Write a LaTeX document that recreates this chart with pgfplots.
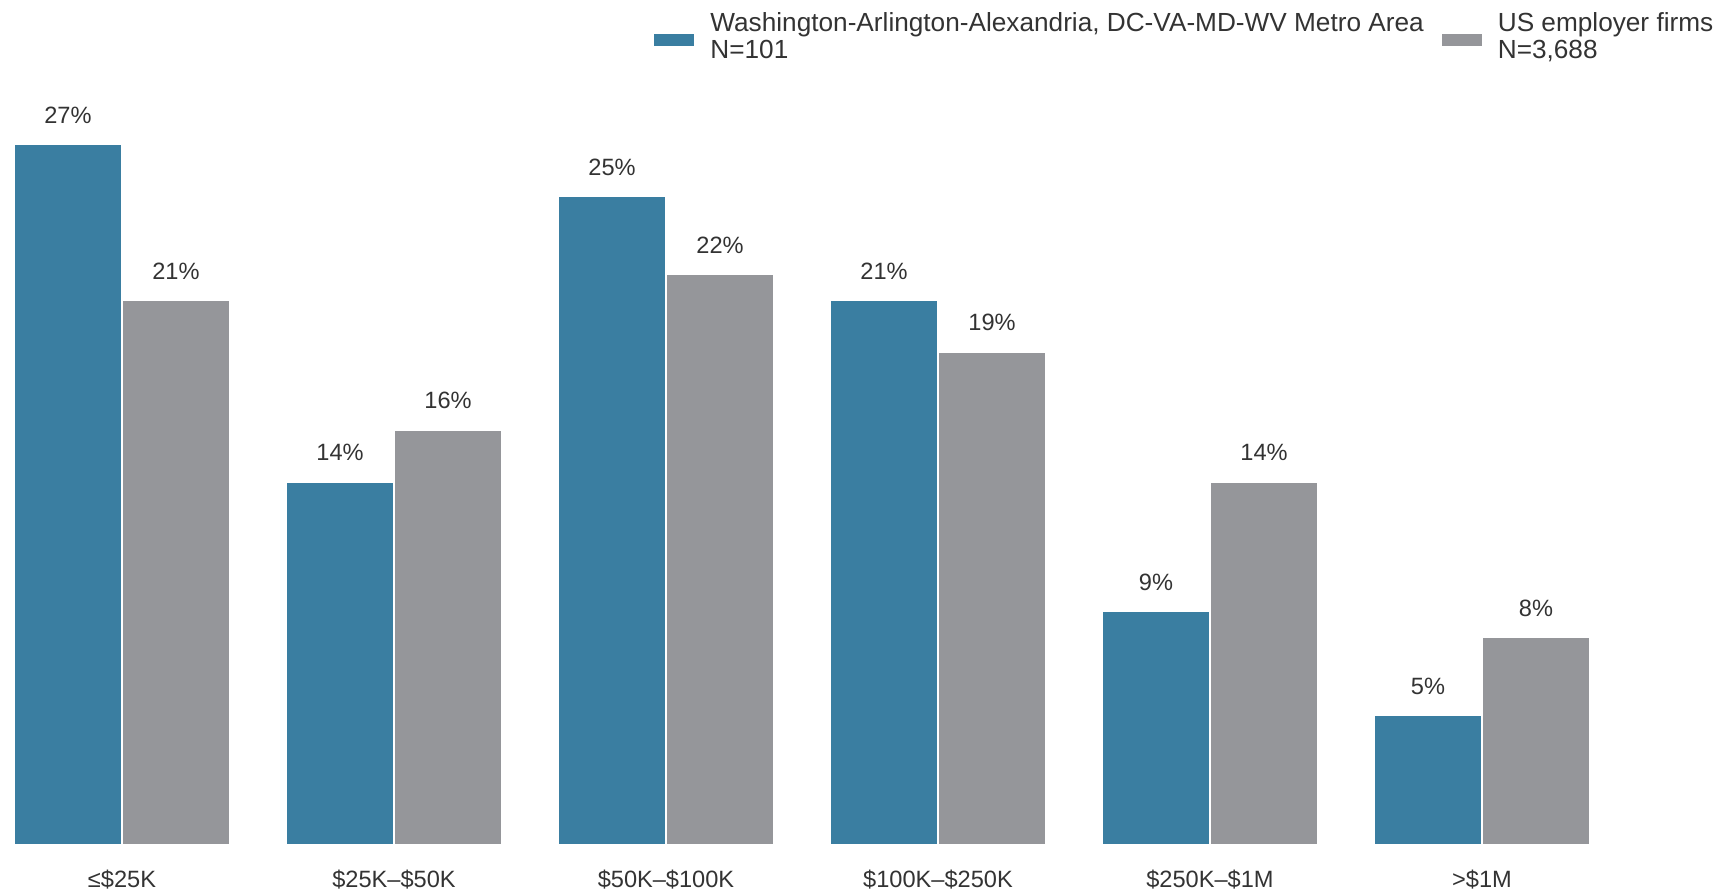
\documentclass[border=0pt]{standalone}
\usepackage{fontspec}
\setmainfont{Liberation Sans}
\usepackage{pgfplots}
\pgfplotsset{compat=1.18}
\definecolor{barblue}{HTML}{3A7EA1}
\definecolor{bargray}{HTML}{95969A}
\definecolor{txt}{HTML}{333333}

\newcommand{\chartfont}{\fontsize{11.8pt}{13.3pt}\selectfont}
\newcommand{\legfont}{\fontsize{13.1pt}{13.3pt}\selectfont}

\begin{document}
\begin{tikzpicture}
\begin{axis}[
  scale only axis, width=863.5pt, height=422.5pt,
  xmin=-0.4485, xmax=5.9007, ymin=0, ymax=32.55,
  axis line style={draw=none}, tick style={draw=none},
  ytick=\empty,
  ybar=0pt, bar width=54pt,
  xtick={0,...,5},
  xticklabels={{≤\$25K},{\$25K–\$50K},{\$50K–\$100K},{\$100K–\$250K},{\$250K–\$1M},{>\$1M}},
  xticklabel style={font=\chartfont, text=txt, anchor=base, yshift=-17pt},
  /pgf/number format/assume math mode=true,
  nodes near coords={\pgfmathprintnumber{\pgfplotspointmeta}\%},
  nodes near coords style={font=\chartfont, text=txt, yshift=6.5pt},
  clip=false,
  legend columns=2,
  legend style={draw=none, fill=none, at={(rel axis cs:0.3787,0.99)}, anchor=north west,
    inner sep=0pt, font=\legfont, text=txt,
    cells={anchor=west, align=left},
    /tikz/every odd column/.append style={column sep=6pt},
    /tikz/every even column/.append style={column sep=7pt}},
  legend image code/.code={\fill[#1,draw=none] (0pt,-4.5pt) rectangle (20pt,1.5pt);},
]
\addplot[fill=barblue, draw=white, line width=1pt] coordinates {(0,27) (1,14) (2,25) (3,21) (4,9) (5,5)};
\addlegendentry{Washington-Arlington-Alexandria, DC-VA-MD-WV Metro Area\\N=101}
\addplot[fill=bargray, draw=white, line width=1pt] coordinates {(0,21) (1,16) (2,22) (3,19) (4,14) (5,8)};
\addlegendentry{US employer firms\\N=3,688}
\coordinate (bl) at (rel axis cs:0,0);
\coordinate (tr) at (rel axis cs:1,1);
\end{axis}
\pgfresetboundingbox
\path (bl) ++(0,-23.5pt) rectangle (tr);
\end{tikzpicture}
\end{document}
